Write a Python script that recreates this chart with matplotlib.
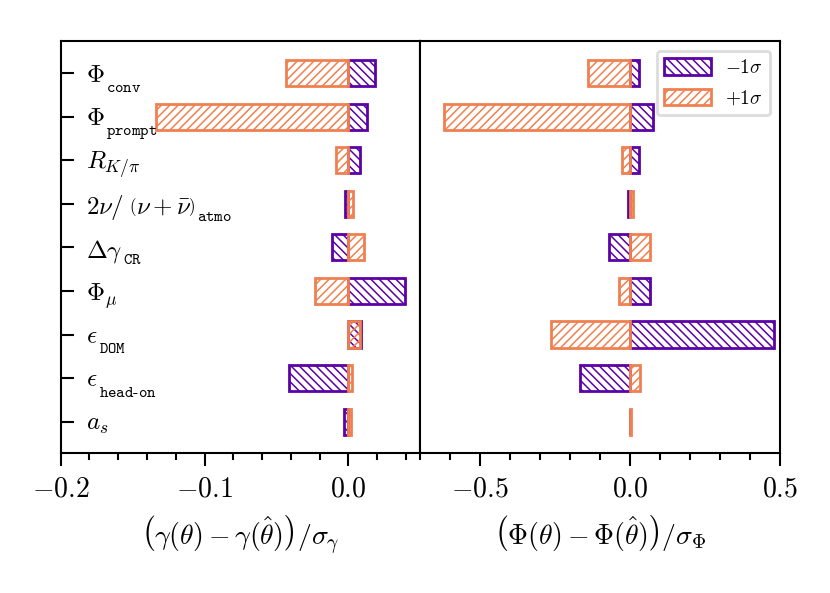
import matplotlib
matplotlib.use('Agg')
import matplotlib.pyplot as plt
from matplotlib.ticker import MultipleLocator
import numpy as np

plt.rcParams.update({
    'font.family': 'serif',
    'font.serif': ['cmr10', 'DejaVu Serif'],
    'mathtext.fontset': 'cm',
    'axes.formatter.use_mathtext': True,
    'font.size': 10,
    'hatch.linewidth': 0.55,
    'axes.linewidth': 0.75,
})

# parameter names: main symbol and (small typewriter) subscript
label_main = [r'$\Phi$', r'$\Phi$', r'$R_{K/\pi}$',
              r'$2\nu/\;\left(\nu+\bar{\nu}\right)$', r'$\Delta\gamma$',
              r'$\Phi_\mu$', r'$\epsilon$', r'$\epsilon$', r'$a_s$']
label_sub = [r'$\mathtt{conv}$', r'$\mathtt{prompt}$', '', r'$\mathtt{atmo}$', r'$\mathtt{CR}$',
             '', r'$\mathtt{DOM}$', r'$\mathtt{head\text{-}on}$', '']
gamma_minus = [0.0187, 0.0132, 0.0081, -0.0024, -0.0115, 0.0395, 0.0086, -0.0413, -0.0032]
gamma_plus = [-0.0434, -0.1340, -0.0085, 0.0033, 0.0109, -0.0231, 0.0078, 0.0026, 0.0021]
phi_minus = [0.028, 0.076, 0.028, -0.007, -0.072, 0.065, 0.481, -0.166, -0.001]
phi_plus = [-0.142, -0.622, -0.026, 0.011, 0.066, -0.036, -0.264, 0.032, 0.003]

c_minus = '#5b02a6'
c_plus = '#f0804f'

fig = plt.figure(figsize=(4.15, 2.965), dpi=200)
gs = fig.add_gridspec(1, 2, left=0.0731, right=0.9398, bottom=0.2361, top=0.9309, wspace=0)
ax1 = fig.add_subplot(gs[0, 0])
ax2 = fig.add_subplot(gs[0, 1], sharey=ax1)

y = np.arange(len(label_main))
h = 0.6
for ax, vm, vp in [(ax1, gamma_minus, gamma_plus), (ax2, phi_minus, phi_plus)]:
    ax.barh(y, vm, height=h, facecolor='none', edgecolor=c_minus, hatch='\\' * 8,
            linewidth=1.0, label=r'$-1\sigma$')
    ax.barh(y, vp, height=h, facecolor='none', edgecolor=c_plus, hatch='/' * 8,
            linewidth=1.0, label=r'$+1\sigma$')
    ax.tick_params(axis='x', which='major', direction='out', length=4.8, width=0.75)
    ax.tick_params(axis='x', which='minor', direction='out', length=2.4, width=0.75)

ax1.set_xlim(-0.2, 0.05)
ax1.xaxis.set_major_locator(MultipleLocator(0.1))
ax1.xaxis.set_minor_locator(MultipleLocator(0.02))
ax2.set_xlim(-0.7, 0.5)
ax2.xaxis.set_major_locator(MultipleLocator(0.5))
ax2.xaxis.set_minor_locator(MultipleLocator(0.1))

ax1.set_ylim(8.72, -0.74)
ax1.set_yticks(y)
ax1.set_yticklabels(label_main, fontsize=9)
for t in ax1.get_yticklabels():
    t.set_ha('left')
ax1.tick_params(axis='y', which='major', direction='in', length=4.8, width=0.75, pad=-9)
ax1.tick_params(axis='y', which='minor', left=False)
ax2.tick_params(axis='y', which='both', left=False, labelleft=False)

ax1.set_xlabel(r'$\left(\gamma(\theta)-\gamma(\hat{\theta})\right)/\sigma_\gamma$')
ax2.set_xlabel(r'$\left(\Phi(\theta)-\Phi(\hat{\theta})\right)/\sigma_\Phi$')

leg = ax2.legend(loc='upper right', fontsize='x-small', handlelength=2.4, handleheight=0.95,
                 labelspacing=0.6, handletextpad=0.75, fancybox=True)
leg.get_frame().set_edgecolor('#d4d4d4')
leg.get_frame().set_linewidth(1.0)

# attach the small typewriter subscripts after the main symbols
fig.canvas.draw()
r = fig.canvas.get_renderer()
inv = fig.transFigure.inverted()
for lab, sub in zip(ax1.get_yticklabels(), label_sub):
    if not sub:
        continue
    bb = lab.get_window_extent(r)
    _, _, d = r.get_text_width_height_descent(lab.get_text(), lab.get_fontproperties(), ismath=True)
    base = bb.y0 + d
    fx, fy = inv.transform((bb.x1 + 1.5, base - 7.0))
    fig.text(fx, fy, sub, fontsize=5.8, ha='left', va='baseline')

fig.savefig('out.png', dpi=200)
